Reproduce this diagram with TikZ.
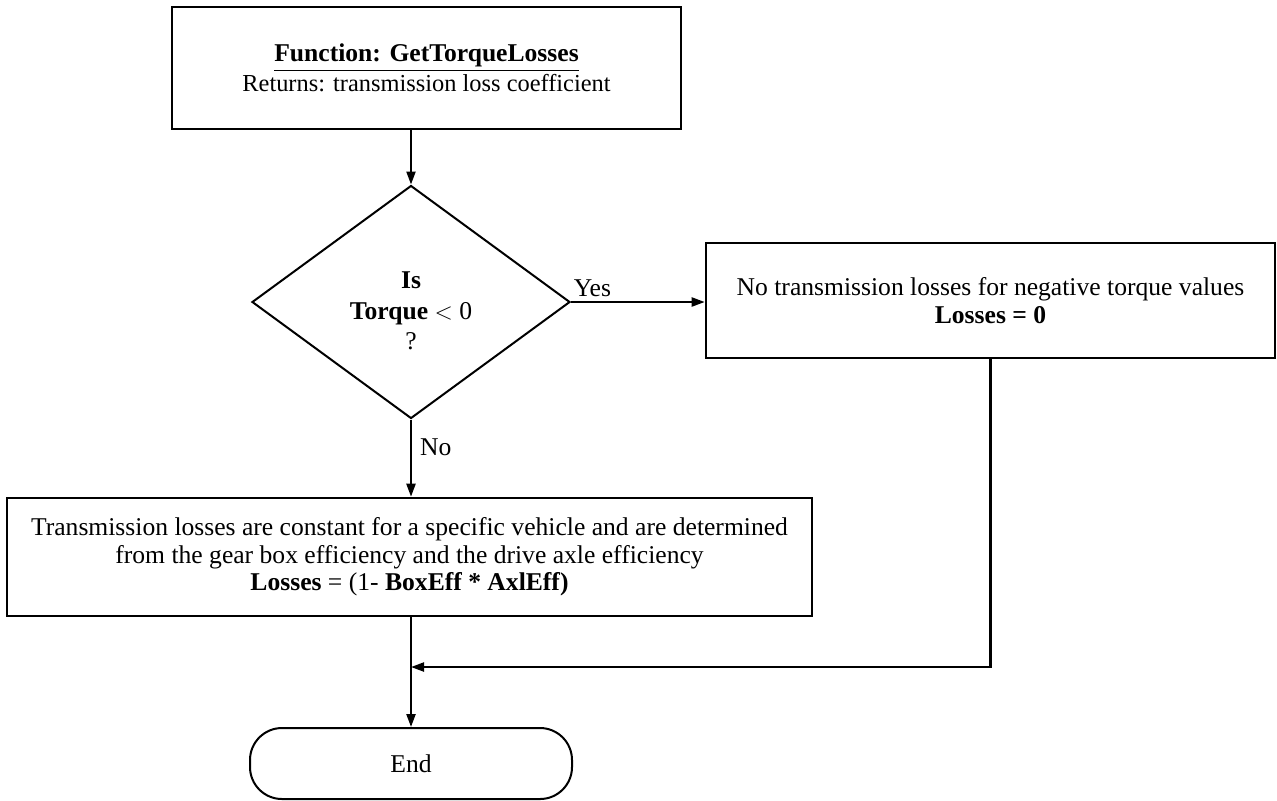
\documentclass[tikz,border=0pt]{standalone}
\usepackage{fontspec}
\setmainfont{Liberation Serif}
\usetikzlibrary{shapes.geometric,arrows.meta}
\begin{document}
\begin{tikzpicture}[x=0.5pt,y=-0.5pt,
  every node/.style={font=\fontsize{12.8}{13.75}\selectfont},
  procbox/.style={draw,line width=1.3pt,rectangle,align=center,inner sep=0pt},
  decision/.style={draw,line width=1pt,diamond,inner sep=0pt,
    minimum width=159pt,minimum height=116.5pt},
  terminal/.style={draw,line width=1pt,rectangle,rounded corners=16pt,inner sep=0pt,
    minimum width=161pt,minimum height=35.5pt},
  flow/.style={line width=1.1pt,-{Triangle[length=6.5pt,width=4.5pt]}},
  lbl/.style={inner sep=1pt}]
\useasboundingbox (0,0) rectangle (1277,800);

% function header
\node[procbox,minimum width=254.5pt,minimum height=61pt] (start) at (426.5,68)
  {\textbf{\underline{Function: GetTorqueLosses}}\\[1pt]
   {\fontsize{12.2}{13.75}\selectfont Returns: transmission loss coefficient}};

% decision on the sign of the torque
\node[decision] (dec) at (411,302) {};
\node[align=center,inner sep=0pt] (dectext) at ([yshift=-4.5pt]dec.center)
  {\textbf{Is}\\[1.5pt]\textbf{Torque} \(<\) 0\\[1.5pt]?};

\node[procbox,minimum width=284.5pt,minimum height=57.5pt] (neg) at (990.5,300.5)
  {No transmission losses for negative torque values\\[0.5pt]\textbf{Losses = 0}};

\node[procbox,minimum width=402.5pt,minimum height=59pt] (loss) at (409.5,557)
  {Transmission losses are constant for a specific vehicle and are determined\\
   from the gear box efficiency and the drive axle efficiency\\
   \textbf{Losses} = (1- \textbf{BoxEff * AxlEff)}};

\node[terminal] (fin) at (411,763.5) {End};

\coordinate (merge) at (411,667);

\draw[flow] (start.south -| dec.north) -- (dec.north);
\draw[flow] (dec.east) -- (dec.east -| neg.west) node[lbl,pos=0.16,above=1pt] {Yes};
\draw[flow] (dec.south) -- (loss.north -| dec.south) node[lbl,pos=0.36,right=3pt] {No};
\draw[flow] (neg.south) |- (merge);
\draw[flow] (loss.south -| fin.north) -- (fin.north);
\end{tikzpicture}
\end{document}
